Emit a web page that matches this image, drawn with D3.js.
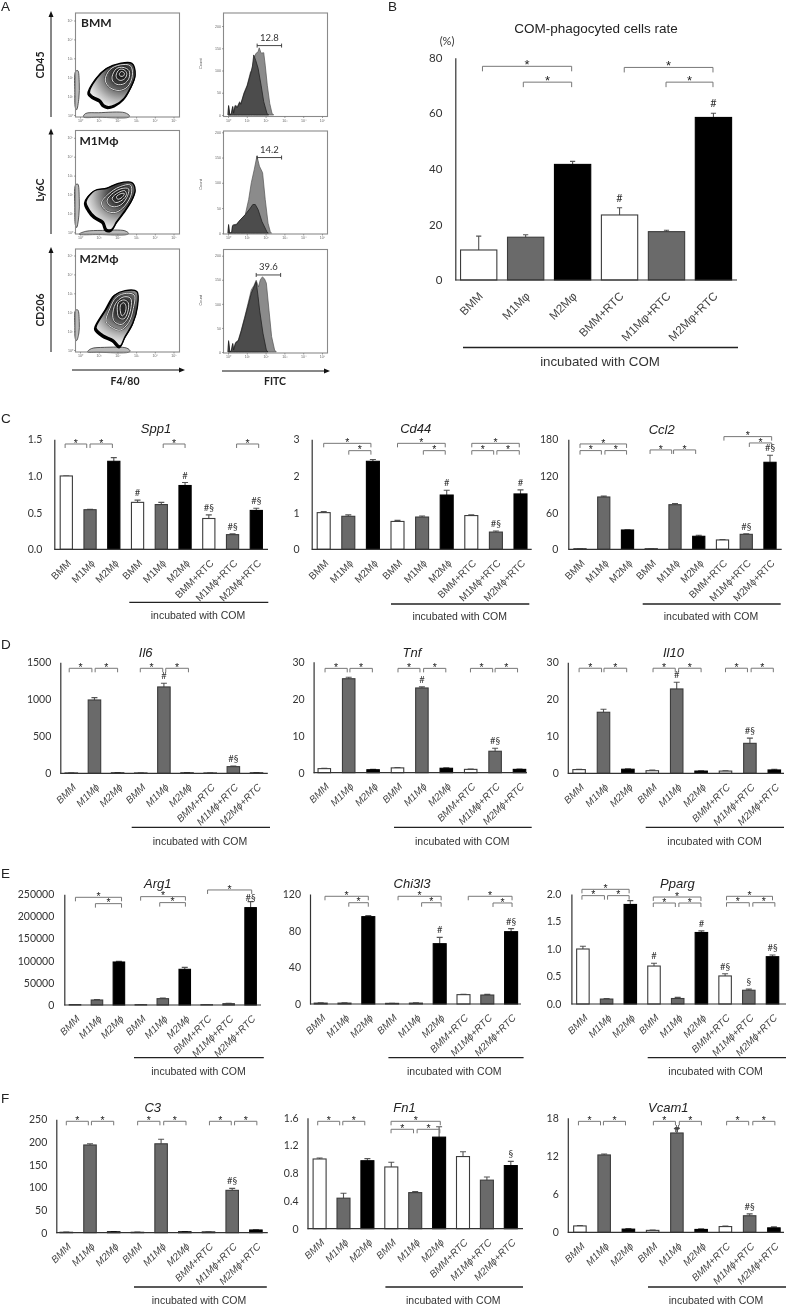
<!DOCTYPE html>
<html><head><meta charset="utf-8">
<script src="https://cdnjs.cloudflare.com/ajax/libs/d3/7.8.5/d3.min.js"></script>
<style>html,body{margin:0;padding:0;background:#fff}svg{display:block;filter:blur(0.4px)}</style></head>
<body><div id="chart"></div>
<script>
// ---------- shared categories ----------
const catsAll = ["BMM","M1Mϕ","M2Mϕ","BMM","M1Mϕ","M2Mϕ","BMM+RTC","M1Mϕ+RTC","M2Mϕ+RTC"];
const catsB = ["BMM","M1Mφ","M2Mφ","BMM+RTC","M1Mφ+RTC","M2Mφ+RTC"];
const noteText = "incubated with COM";

// ---------- panel B ----------
const rateVals = [10.8,15.4,41.6,23.4,17.4,58.5];
const rateErrs = [15.8,16.3,42.7,26,17.9,60];
const rateTicks = [0,20,40,60,80];
const rateMarks = [[3,"#"],[5,"#"]];
const rateBrackets = [[0.08,1.98,76.9],[0.95,1.98,71.2],[3.1,4.99,76.5],[3.99,4.99,71.2]];

// ---------- panel C ----------
const spp1Vals=[1.0,0.54,1.2,0.64,0.61,0.87,0.42,0.2,0.53];
const spp1Errs=[1.0,0.545,1.25,0.67,0.64,0.91,0.47,0.21,0.56];
const spp1Ticks=[0,0.5,1,1.5];
const spp1Marks=[[3,"#"],[5,"#"],[6,"#§"],[7,"#§"],[8,"#§"]];
const spp1Brackets=[[-0.05,0.86,1.436],[1,1.94,1.436],[4.08,5,1.436],[7.17,8.1,1.436]];

const cd44Vals=[1.0,0.9,2.4,0.76,0.88,1.48,0.92,0.47,1.51];
const cd44Errs=[1.03,0.94,2.45,0.79,0.91,1.61,0.94,0.5,1.62];
const cd44Ticks=[0,1,2,3];
const cd44Marks=[[5,"#"],[7,"#§"],[8,"#"]];
const cd44Brackets=[[0,1.92,2.89],[1.02,1.92,2.69],[3,4.94,2.89],[4.05,4.94,2.69],[6.02,7.95,2.89],[6.02,6.91,2.69],[7.04,7.95,2.69]];

const ccl2Vals=[1,85.6,31.6,1,73,21.3,15.3,24.5,142.4];
const ccl2Errs=[1.2,87,32,1.2,75,23,16,25.5,154];
const ccl2Ticks=[0,60,120,180];
const ccl2Marks=[[7,"#§"],[8,"#§"]];
const ccl2Brackets=[[0,1.96,172.4],[0,0.9,161.5],[1.05,1.96,161.5],[2.95,3.86,162.6],[3.94,4.87,162.6],[6.06,8.07,184.4],[7.13,8.07,174]];

// ---------- panel D ----------
const il6Vals=[5,991,5,5,1167,5,5,90,5];
const il6Errs=[6,1022,6,6,1216,6,6,99,6];
const il6Ticks=[0,500,1000,1500];
const il6Marks=[[4,"#"],[7,"#§"]];
const il6Brackets=[[-0.09,0.89,1419],[1.03,2,1419],[2.98,3.95,1419],[4.08,5.06,1419]];

const tnfVals=[1.1,25.4,0.8,1.3,22.9,1.2,0.9,5.8,0.9];
const tnfErrs=[1.2,25.8,0.9,1.4,23.2,1.3,1.0,6.6,1.0];
const tnfTicks=[0,10,20,30];
const tnfMarks=[[4,"#"],[7,"#§"]];
const tnfBrackets=[[0.03,0.94,28.2],[1.05,1.97,28.2],[3.02,3.92,28.2],[4.07,4.98,28.2],[5.99,6.9,28.2],[7,7.92,28.2]];

const il10Vals=[1.0,16.5,1.1,0.7,22.8,0.6,0.6,8.1,0.9];
const il10Errs=[1.1,17.3,1.2,0.9,24.6,0.7,0.7,9.5,1.1];
const il10Ticks=[0,10,20,30];
const il10Marks=[[4,"#"],[7,"#§"]];
const il10Brackets=[[0,0.92,28.4],[1.02,1.95,28.4],[3.03,3.94,28.4],[4.08,5,28.4],[6,6.9,28.4],[7.05,7.96,28.4]];

// ---------- panel E ----------
const arg1Vals=[1000,11300,97100,800,14300,80600,800,3000,219900];
const arg1Errs=[1200,12500,98600,1000,15800,85000,1000,3800,233400];
const arg1Ticks=[0,50000,100000,150000,200000,250000];
const arg1Marks=[[8,"#§",1]];
const arg1Brackets=[[0.02,2.12,243200],[0.93,2.12,228900],[2.99,5.03,244700],[3.86,5.03,231200],[6.04,8.05,259800]];

const chi3l3Vals=[1,1,95.3,0.7,1,65.8,10.2,9.8,78.9];
const chi3l3Errs=[1.2,1.2,96.4,0.9,1.3,72.7,10.6,10.5,82.2];
const chi3l3Ticks=[0,40,80,120];
const chi3l3Marks=[[5,"#"],[8,"#§"]];
const chi3l3Brackets=[[0.18,2,117.5],[1.18,2,110.5],[3.25,5.06,117.5],[4.24,5.06,110.5],[6.2,8.04,117.5],[7.24,8.04,110.2]];

const ppargVals=[1.0,0.09,1.81,0.69,0.1,1.3,0.51,0.25,0.86];
const ppargErrs=[1.05,0.1,1.88,0.74,0.12,1.33,0.55,0.27,0.89];
const ppargTicks=[0,0.5,1,1.5,2];
const ppargMarks=[[3,"#"],[5,"#"],[6,"#§"],[7,"§"],[8,"#§"]];
const ppargBrackets=[[-0.04,1.95,2.085],[-0.04,0.91,1.97],[1.04,1.95,1.97],[2.97,4.98,1.945],[2.97,3.9,1.836],[4.05,4.98,1.836],[6.06,8,1.958],[6.06,7.02,1.842],[7.17,8.1,1.842]];

// ---------- panel F ----------
const c3Vals=[1,193.4,2,1,196,2,2,93.4,6];
const c3Errs=[1.3,196,2.4,1.3,206,2.4,2.4,97.8,6.5];
const c3Ticks=[0,50,100,150,200,250];
const c3Marks=[[7,"#§"]];
const c3Brackets=[[0,0.93,245.6],[1.06,2,245.6],[3.01,3.95,245.6],[4.11,5.05,245.6],[6.04,6.96,245.6],[7.1,8.04,245.6]];

const fn1Vals=[1.005,0.44,0.98,0.89,0.52,1.32,1.04,0.7,0.91];
const fn1Errs=[1.02,0.51,1.01,0.957,0.535,1.47,1.11,0.745,0.97];
const fn1Ticks=[0,0.4,0.8,1.2,1.6];
const fn1Marks=[[8,"§"]];
const fn1Brackets=[[-0.08,0.84,1.548],[0.97,1.89,1.548],[2.99,5.05,1.548],[2.99,3.93,1.433],[4.08,5.03,1.433]];

const vcam1Vals=[1.0,12.15,0.5,0.3,15.6,0.45,0.9,2.6,0.7];
const vcam1Errs=[1.05,12.3,0.6,0.35,16.3,0.55,1.0,2.9,0.85];
const vcam1Ticks=[0,6,12,18];
const vcam1Marks=[[4,"#",-3],[7,"#§"]];
const vcam1Brackets=[[-0.06,0.85,17.43],[0.97,1.88,17.43],[3.03,3.94,17.43],[4.1,5.01,17.43],[6.05,6.96,17.43],[7.13,8.04,17.43]];

// ---------- panel A: flow cytometry, log10 units ----------
const rowNames=["BMM","M1Mϕ","M2Mϕ"];
const yAxisNames=["CD45","Ly6C","CD206"];
const gateVals=["12.8","14.2","39.6"];
const gateFrom=[1.55,1.55,1.5];
const gateTo=[2.85,2.85,2.8];
const gateCount=[156,150,160];
const contourOuter=[
 [[.5,1.18],[.89,1.94],[1.43,2.47],[2.14,2.73],[2.77,2.73],[2.95,2.12],[2.71,1.46],[2.35,.88],[1.87,.53],[1.52,.44],[1.29,.53],[1.07,.79],[.71,.97]],
 [[.32,1.62],[.77,2.2],[1.43,2.33],[2.05,2.59],[2.77,2.63],[2.95,2.24],[2.77,1.71],[2.36,1.09],[1.96,.56],[1.7,.16],[1.43,.16],[1.25,.56],[.8,.83],[.5,1.18]],
 [[.89,1.32],[1.43,2.2],[1.87,2.91],[2.41,3.14],[3.04,3.09],[3.07,2.29],[2.82,1.41],[2.41,.71],[2.14,.21],[1.79,.53],[1.25,.79],[.86,1.15]]
];
const contourCentre=[[2.2,2.17],[2.14,1.98],[2.29,2.2]];
const contourRings=[
 [[[1.35,1.85],[1.6,2.4],[2.15,2.65],[2.7,2.6],[2.8,2.1],[2.55,1.5],[2.1,1.3],[1.6,1.45]],
  [[1.72,2.05],[1.95,2.45],[2.3,2.52],[2.62,2.35],[2.62,1.95],[2.35,1.65],[1.98,1.62],[1.75,1.8]],
  [[1.93,2.1],[2.1,2.4],[2.35,2.4],[2.5,2.2],[2.42,1.95],[2.2,1.83],[2,1.9]],
  [[2.1,2.17],[2.22,2.3],[2.37,2.22],[2.33,2.07],[2.17,2.05]]],
 [[[1.15,1.55],[1.55,2.05],[2.1,2.4],[2.7,2.5],[2.75,2.05],[2.4,1.4],[1.9,1.05],[1.4,1.15]],
  [[1.45,1.7],[1.8,2.1],[2.25,2.32],[2.6,2.3],[2.55,1.95],[2.25,1.5],[1.85,1.35],[1.55,1.45]],
  [[1.72,1.8],[2.05,2.1],[2.4,2.2],[2.48,2],[2.25,1.7],[1.9,1.58]],
  [[1.95,1.88],[2.2,2.05],[2.37,2.05],[2.25,1.85],[2.02,1.75]]],
 [[[1.4,1.5],[1.6,2.2],[1.95,2.8],[2.5,3],[2.9,2.9],[2.85,2.2],[2.6,1.45],[2.15,1.05],[1.7,1.2]],
  [[1.75,1.8],[1.9,2.45],[2.3,2.8],[2.7,2.75],[2.72,2.2],[2.5,1.6],[2.2,1.35],[1.85,1.5]],
  [[2,2],[2.05,2.5],[2.35,2.65],[2.58,2.5],[2.55,2],[2.35,1.65],[2.1,1.7]],
  [[2.15,2.1],[2.18,2.4],[2.35,2.5],[2.46,2.3],[2.4,1.95],[2.25,1.8]]]
];
const smearLeft=[
 [[-.25,.4],[-.28,1.2],[-.24,2.3],[-.12,2.35],[-.04,1.7],[-.06,.9],[-.18,.28]],
 [[-.25,.4],[-.28,1.3],[-.24,2.5],[-.12,2.55],[-.04,1.8],[-.06,.9],[-.18,.25]],
 [[-.25,.6],[-.28,1.2],[-.24,2.1],[-.12,2.12],[-.04,1.5],[-.06,.9],[-.18,.5]]
];
const smearBottom=[
 [[.18,-.1],[.3,.08],[1,.12],[2.4,.12],[2.65,-.05],[2.6,-.12],[1,-.12]],
 [[-.05,-.1],[.3,.05],[1.2,.1],[2.4,.08],[2.6,-.06],[2.5,-.12],[1,-.12]],
 [[.4,-.1],[.6,.07],[1.3,.14],[2.5,.1],[2.68,-.05],[2.6,-.12],[1,-.12]]
];
const histLight=[
 [[0,0],[.03,22],[.1,0],[.18,4],[.25,20],[.3,5],[.38,22],[.5,19],[.62,30],[.68,25],[.85,50],[1.02,67],[1.2,97],[1.3,100],[1.39,127],[1.48,138],[1.6,142],[1.66,151],[1.76,139],[1.9,140],[1.98,112],[2.09,67],[2.22,26],[2.34,4],[2.43,0]],
 [[0,0],[.03,18],[.08,0],[.2,2],[.24,16],[.3,17],[.45,18],[.66,27],[.92,37],[1.1,67],[1.24,100],[1.4,127],[1.54,153],[1.67,133],[1.84,120],[1.98,67],[2.13,20],[2.25,3],[2.32,0]],
 [[0,0],[.03,24],[.1,0],[.18,3],[.25,18],[.3,5],[.4,20],[.55,25],[.7,45],[.89,73],[1.06,100],[1.24,129],[1.38,138],[1.5,149],[1.62,135],[1.72,150],[1.83,156],[1.94,152],[2.04,143],[2.18,87],[2.32,32],[2.48,4],[2.57,0]]
];
const histDark=[
 [[0,0],[.03,20],[.1,0],[.18,3],[.25,18],[.3,4],[.38,20],[.5,17],[.62,28],[.68,24],[.85,47],[1.02,65],[1.2,92],[1.3,110],[1.37,135],[1.48,122],[1.6,105],[1.76,67],[1.9,30],[2.07,4],[2.16,0]],
 [[0,0],[.03,16],[.08,0],[.2,2],[.24,14],[.3,16],[.45,17],[.66,27],[.92,37],[1.19,50],[1.32,57],[1.45,57],[1.6,47],[1.81,23],[2.07,3],[2.15,0]],
 [[0,0],[.03,22],[.1,0],[.18,3],[.25,17],[.3,4],[.4,18],[.55,23],[.7,42],[.89,70],[1.06,95],[1.24,122],[1.38,135],[1.5,146],[1.6,115],[1.68,87],[1.86,39],[2.04,4],[2.12,0]]
];
const histCountTicks=[[0,50,100,150,200],[0,50,100,150,200],[0,50,100,150,200]];
const decadeTicks=[0,1,2,3,4,5];
const supers=["⁰","¹","²","³","⁴","⁵"];

// ---------- drawing ----------
const W=787,H=1305;
const TICKF="Lato,'Open Sans',sans-serif", SANS="'Liberation Sans',Arial,sans-serif";
const svg=d3.select("#chart").append("svg").attr("width",W).attr("height",H).attr("viewBox",`0 0 ${W} ${H}`);
const defs=svg.append("defs");
const fills={BMM:"#fff",M1:"#6a6a6a",M2:"#000"};
const fillOf=c=>c.startsWith("BMM")?fills.BMM:c.startsWith("M1")?fills.M1:fills.M2;
const edgeOf=c=>c.startsWith("M2")?"#000":"#3c3c3c";

[["A",1,11],["B",388,11],["C",1,423],["D",1,649],["E",1,878],["F",1,1103]].forEach(([t,x,y])=>
  svg.append("text").attr("x",x).attr("y",y).attr("font-family",SANS).attr("font-size",13.5).attr("fill","#222").text(t));

function drawBars(cfg){
  const L=cfg.layout, g=svg.append("g");
  const idx=d3.range(cfg.cats.length);
  const last=idx.length-1;
  const band=d3.scaleBand().domain(idx).range([L.first-L.step/2,L.first+last*L.step+L.step/2]).paddingInner(1-L.barW/L.step).paddingOuter((1-L.barW/L.step)/2);
  const xi=d3.scaleLinear().domain([0,last]).range([L.first,L.first+last*L.step]);
  const y=d3.scaleLinear().domain([0,d3.max(cfg.ticks)]).range([L.base,L.top]);
  g.append("text").attr("x",L.titleX).attr("y",L.titleY).attr("text-anchor","middle").attr("font-family",SANS)
    .attr("font-size",L.titleSize||13).attr("font-style",L.titleItalic===false?"normal":"italic").attr("fill","#222").text(cfg.title);
  g.selectAll(".eb").data(idx).join("path").attr("fill","none").attr("stroke","#555").attr("stroke-width",1.1)
    .attr("d",i=>{const cx=band(i)+band.bandwidth()/2,c=L.cap;return `M${cx},${y(cfg.vals[i])}V${y(cfg.errs[i])}M${cx-c},${y(cfg.errs[i])}H${cx+c}`;});
  g.selectAll(".bar").data(idx).join("rect")
    .attr("x",i=>band(i)).attr("width",band.bandwidth())
    .attr("y",i=>y(cfg.vals[i])).attr("height",i=>L.base-y(cfg.vals[i]))
    .attr("fill",i=>fillOf(cfg.cats[i])).attr("stroke",i=>edgeOf(cfg.cats[i])).attr("stroke-width",1.1);
  const ya=d3.axisLeft(y).tickValues(cfg.ticks).tickSize(0).tickPadding(L.pad).tickFormat(cfg.fmt);
  const yg=g.append("g").attr("transform",`translate(${L.axisX},0)`).call(ya);
  yg.select(".domain").attr("stroke","#333").attr("stroke-width",1.2);
  yg.selectAll("text").attr("font-family",TICKF).attr("font-size",L.tickSize).attr("fill","#333");
  const xa=d3.axisBottom(band).tickSize(0).tickFormat(i=>cfg.cats[i]);
  const xg=g.append("g").attr("transform",`translate(0,${L.base})`).call(xa);
  xg.select(".domain").remove();
  xg.selectAll("text").attr("font-family",SANS).attr("font-size",L.catSize).attr("font-style",L.catItalic?"italic":"normal").attr("fill","#444")
    .attr("text-anchor","end").attr("x",0).attr("y",0).attr("dy",".35em")
    .attr("transform",`translate(${L.catDx},${L.catDy}) rotate(-45)`);
  g.append("line").attr("x1",L.axisX).attr("x2",L.end).attr("y1",L.base).attr("y2",L.base).attr("stroke","#333").attr("stroke-width",1.2);
  const bg=g.append("g");
  cfg.brackets.forEach(([a,b,v])=>{
    const x0=xi(a),x1=xi(b),yy=y(v);
    bg.append("path").attr("fill","none").attr("stroke","#777").attr("stroke-width",1).attr("d",`M${x0},${yy+L.drop}V${yy}H${x1}V${yy+L.drop}`);
    bg.append("text").attr("x",(x0+x1)/2).attr("y",yy+L.starDy).attr("text-anchor","middle").attr("font-family",SANS).attr("font-size",L.starSize).attr("fill","#222").text("*");
  });
  g.selectAll(".m").data(cfg.marks).join("text")
    .attr("x",d=>band(d[0])+band.bandwidth()/2)
    .attr("y",d=>y(cfg.errs[d[0]])-(d[2]===undefined?L.markOff:d[2]))
    .attr("text-anchor","middle").attr("font-family",TICKF).attr("font-size",L.markSize).attr("fill","#333").text(d=>d[1]);
  g.append("line").attr("x1",L.lineX0).attr("x2",L.lineX1).attr("y1",L.lineY).attr("y2",L.lineY).attr("stroke","#222").attr("stroke-width",1.3);
  g.append("text").attr("x",L.noteX).attr("y",L.noteY).attr("text-anchor","middle").attr("font-family",SANS).attr("font-size",L.noteSize).attr("fill","#333").text(noteText);
}

const base={cap:3,drop:4,starDy:2.6,starSize:10.5,markOff:4,markSize:9.5,tickSize:10.5,pad:11,catSize:10,catDx:3,catDy:12,barW:12.5,noteSize:10.5,catItalic:true};
const fmt1=d=>d3.format(".1f")(d), fmtI=d=>String(d), fmtFn=d=>d?d.toFixed(1):"0";

drawBars({title:"COM-phagocyted cells rate",cats:catsB,vals:rateVals,errs:rateErrs,ticks:rateTicks,fmt:fmtI,marks:rateMarks,brackets:rateBrackets,
 layout:{...base,axisX:455.3,top:57.7,base:280,end:737,first:478.7,step:46.95,barW:36.3,pad:13,tickSize:11.5,titleX:596,titleY:33,titleSize:13.5,titleItalic:false,
  lineX0:463,lineX1:738,lineY:347.5,noteX:600,noteY:366,noteSize:13.3,catSize:11.6,catItalic:false,catDx:2,catDy:14,cap:2.6,drop:5,starSize:13,starDy:3,markOff:6,markSize:11}});
svg.append("text").attr("x",447).attr("y",45).attr("text-anchor","middle").attr("font-family",TICKF).attr("font-size",11).attr("fill","#333").text("(%)");

const panels=[
 {title:"Spp1",vals:spp1Vals,errs:spp1Errs,ticks:spp1Ticks,fmt:fmt1,marks:spp1Marks,brackets:spp1Brackets,
  l:{catItalic:false,axisX:54.3,top:439.3,base:549.3,end:268,first:66.3,step:23.75,barW:12.2,pad:12,titleX:156,titleY:433,lineX0:129.3,lineX1:268.3,lineY:602.3,noteX:198,noteY:619}},
 {title:"Cd44",vals:cd44Vals,errs:cd44Errs,ticks:cd44Ticks,fmt:fmtI,marks:cd44Marks,brackets:cd44Brackets,
  l:{catItalic:false,axisX:311.7,top:439.3,base:549.3,end:531.7,first:323.7,step:24.6,barW:13,pad:12,titleX:415.7,titleY:433,lineX0:391,lineX1:529.3,lineY:604,noteX:459.7,noteY:620}},
 {title:"Ccl2",vals:ccl2Vals,errs:ccl2Errs,ticks:ccl2Ticks,fmt:fmtI,marks:ccl2Marks,brackets:ccl2Brackets,
  l:{catItalic:false,axisX:568.3,top:439.3,base:549.3,end:781.7,first:580,step:23.75,barW:12.2,pad:10,titleX:661.7,titleY:434,lineX0:642.7,lineX1:780.7,lineY:604,noteX:711,noteY:620}},
 {title:"Il6",vals:il6Vals,errs:il6Errs,ticks:il6Ticks,fmt:fmtI,marks:il6Marks,brackets:il6Brackets,
  l:{axisX:60.3,top:662.3,base:773.3,end:267.8,first:71.3,step:23.15,pad:9,titleX:145.7,titleY:657,lineX0:131.7,lineX1:270,lineY:827.3,noteX:200,noteY:845}},
 {title:"Tnf",vals:tnfVals,errs:tnfErrs,ticks:tnfTicks,fmt:fmtI,marks:tnfMarks,brackets:tnfBrackets,
  l:{axisX:313.6,top:661.7,base:772.7,end:527,first:324.3,step:24.4,pad:9,titleX:412,titleY:657,lineX0:394,lineX1:531.7,lineY:827.3,noteX:462.3,noteY:845}},
 {title:"Il10",vals:il10Vals,errs:il10Errs,ticks:il10Ticks,fmt:fmtI,marks:il10Marks,brackets:il10Brackets,
  l:{axisX:567.8,top:662.3,base:773.3,end:784,first:579.1,step:24.4,pad:9,titleX:673.4,titleY:657,lineX0:645.7,lineX1:784,lineY:827.3,noteX:714.6,noteY:845}},
 {title:"Arg1",vals:arg1Vals,errs:arg1Errs,ticks:arg1Ticks,fmt:fmtI,marks:arg1Marks,brackets:arg1Brackets,
  l:{axisX:64.3,top:894.3,base:1005,end:261,first:75,step:21.95,barW:11.5,pad:10,titleX:157.8,titleY:888,lineX0:134,lineX1:263.8,lineY:1057.7,noteX:198.5,noteY:1075}},
 {title:"Chi3l3",vals:chi3l3Vals,errs:chi3l3Errs,ticks:chi3l3Ticks,fmt:fmtI,marks:chi3l3Marks,brackets:chi3l3Brackets,
  l:{axisX:310,top:894,base:1004,end:521,first:320.7,step:23.8,barW:13,pad:9,titleX:412,titleY:888,lineX0:388.4,lineX1:523.6,lineY:1057.7,noteX:454.3,noteY:1075}},
 {title:"Pparg",vals:ppargVals,errs:ppargErrs,ticks:ppargTicks,fmt:fmt1,marks:ppargMarks,brackets:ppargBrackets,
  l:{axisX:571.4,top:894,base:1004,end:786,first:582.9,step:23.7,pad:10,titleX:677.4,titleY:888,lineX0:647.7,lineX1:786,lineY:1057.7,noteX:715.6,noteY:1075}},
 {title:"C3",vals:c3Vals,errs:c3Errs,ticks:c3Ticks,fmt:fmtI,marks:c3Marks,brackets:c3Brackets,
  l:{axisX:56.3,top:1119.3,base:1232.7,end:267.8,first:66.3,step:23.7,pad:9,titleX:152.8,titleY:1112,lineX0:134,lineX1:266.8,lineY:1287,noteX:199,noteY:1304}},
 {title:"Fn1",vals:fn1Vals,errs:fn1Errs,ticks:fn1Ticks,fmt:fmtFn,marks:fn1Marks,brackets:fn1Brackets,
  l:{axisX:307.5,top:1117.7,base:1228.7,end:523,first:319.6,step:23.9,barW:13,pad:9,titleX:404.5,titleY:1112,lineX0:385.4,lineX1:523,lineY:1287,noteX:453.3,noteY:1304}},
 {title:"Vcam1",vals:vcam1Vals,errs:vcam1Errs,ticks:vcam1Ticks,fmt:fmtI,marks:vcam1Marks,brackets:vcam1Brackets,
  l:{axisX:567.8,top:1117.7,base:1232.3,end:784,first:579.9,step:24.25,pad:9,titleX:668.3,titleY:1112,lineX0:648,lineX1:786,lineY:1287,noteX:716,noteY:1304}}
];
panels.forEach(p=>drawBars({...p,cats:catsAll,layout:{...base,...p.l}}));

// ---------- Panel A ----------
const rowsL=[{top:13,bottom:117,y0:115},{top:130.5,bottom:234,y0:232.3},{top:249,bottom:352,y0:350}];
const rowsR=[{top:13,bottom:116.5,y0:115,y200:26},{top:131,bottom:234,y0:233.3,y200:132.3},{top:249.5,bottom:353,y0:352,y200:255.7}];
const PL={x0:75.5,x1:179.5,ax:80,dec:18.7}, PR={x0:223.5,x1:327.5,ax:228,dec:18.8};
function tinyAxes(xS,yS,yTicks,yFmt){
  const ax=d3.axisBottom(xS).tickValues(decadeTicks).tickSize(1.5).tickPadding(1).tickFormat(d=>"10"+supers[d]);
  const ay=d3.axisLeft(yS).tickValues(yTicks).tickSize(1.5).tickPadding(1).tickFormat(yFmt);
  return [ax,ay];
}
rowsL.forEach((r,k)=>{
  const g=svg.append("g");
  const x=d3.scaleLinear().domain([0,5]).range([PL.ax,PL.ax+5*PL.dec]);
  const y=d3.scaleLinear().domain([0,5]).range([r.y0,r.y0-5*18.9]);
  const gid="cg"+k, [cx,cy]=contourCentre[k];
  const rg=defs.append("radialGradient").attr("id",gid).attr("gradientUnits","userSpaceOnUse").attr("cx",x(cx)).attr("cy",y(cy)).attr("r",34);
  [[0,"#111"],[.3,"#3c3c3c"],[.55,"#7c7c7c"],[.8,"#bbb"],[1,"#e4e4e4"]].forEach(([o,c])=>rg.append("stop").attr("offset",o).attr("stop-color",c));
  const path=d3.line().x(d=>x(d[0])).y(d=>y(d[1])).curve(d3.curveCatmullRomClosed.alpha(.5));
  [smearLeft[k],smearBottom[k]].forEach(s=>g.append("path").attr("d",path(s)).attr("fill","#bbb").attr("stroke","#333").attr("stroke-width",.8));
  g.append("path").attr("d",path(contourOuter[k])).attr("fill","#000").attr("stroke","#000").attr("stroke-width",2.2).attr("transform","translate(-1,1.4)");
  g.append("path").attr("d",path(contourOuter[k])).attr("fill",`url(#${gid})`).attr("stroke","#000").attr("stroke-width",1.4);
  contourRings[k].forEach((ring,j)=>{
    g.append("path").attr("d",path(ring)).attr("fill",j===3?"#333":"none").attr("stroke","#111").attr("stroke-width",1.8).attr("opacity",.6);
    g.append("path").attr("d",path(ring)).attr("fill","none").attr("stroke","#f0f0f0").attr("stroke-width",.9);
  });
  g.append("rect").attr("x",PL.x0).attr("y",r.top).attr("width",PL.x1-PL.x0).attr("height",r.bottom-r.top).attr("fill","none").attr("stroke","#8a8a8a").attr("stroke-width",1.1);
  const [ax,ay]=tinyAxes(x,y,decadeTicks,d=>"10"+supers[d]);
  const agx=g.append("g").attr("transform",`translate(0,${r.bottom})`).call(ax);
  const agy=g.append("g").attr("transform",`translate(${PL.x0},0)`).call(ay);
  [agx,agy].forEach(a=>{a.select(".domain").remove();a.selectAll("line").attr("stroke","#666").attr("stroke-width",.6);a.selectAll("text").attr("font-family",SANS).attr("font-size",3.6).attr("fill","#666");});
  g.append("text").attr("x",k===0?81:79.5).attr("y",r.top+14.2).attr("font-family",TICKF).attr("font-weight",700).attr("font-size",12).attr("fill","#222").text(rowNames[k]);
  g.append("line").attr("x1",51).attr("x2",51).attr("y1",r.bottom).attr("y2",r.top+1).attr("stroke","#111").attr("stroke-width",1);
  g.append("path").attr("d",`M51,${r.top-2}l-2.5,6h5z`).attr("fill","#111");
  g.append("text").attr("transform",`translate(44,${[65,190,310][k]}) rotate(-90)`).attr("text-anchor","middle").attr("font-family",TICKF).attr("font-weight",700).attr("font-size",10.5).attr("fill","#222").text(yAxisNames[k]);
});
rowsR.forEach((r,k)=>{
  const g=svg.append("g");
  const x=d3.scaleLinear().domain([0,5]).range([PR.ax,PR.ax+5*PR.dec]);
  const y=d3.scaleLinear().domain([0,200]).range([r.y0,r.y200]);
  const area=d3.area().x(d=>x(d[0])).y0(r.y0).y1(d=>y(d[1]));
  g.append("path").attr("d",area(histLight[k])).attr("fill","#8b8b8b").attr("stroke","#555").attr("stroke-width",.7);
  g.append("path").attr("d",area(histDark[k])).attr("fill","#4c4c4c").attr("stroke","#222").attr("stroke-width",.8);
  g.append("rect").attr("x",PR.x0).attr("y",r.top).attr("width",PR.x1-PR.x0).attr("height",r.bottom-r.top).attr("fill","none").attr("stroke","#8a8a8a").attr("stroke-width",1.1);
  const [ax,ay]=tinyAxes(x,y,histCountTicks[k],d=>String(d));
  const agx=g.append("g").attr("transform",`translate(0,${r.bottom})`).call(ax);
  const agy=g.append("g").attr("transform",`translate(${PR.x0},0)`).call(ay);
  [agx,agy].forEach(a=>{a.select(".domain").remove();a.selectAll("line").attr("stroke","#666").attr("stroke-width",.6);a.selectAll("text").attr("font-family",SANS).attr("font-size",3.6).attr("fill","#666");});
  g.append("text").attr("transform",`translate(201.5,${(r.top+r.bottom)/2+(k===1?2:-1)}) rotate(-90)`).attr("text-anchor","middle").attr("font-family",SANS).attr("font-size",4).attr("fill","#555").text("Count");
  const gy=y(gateCount[k]), gx0=x(gateFrom[k]), gx1=x(gateTo[k]);
  g.append("path").attr("fill","none").attr("stroke","#333").attr("stroke-width",.9).attr("d",`M${gx0},${gy-2}v4M${gx0},${gy}H${gx1}M${gx1},${gy-2}v4`);
  g.append("text").attr("x",(gx0+gx1)/2).attr("y",gy-5).attr("text-anchor","middle").attr("font-family",TICKF).attr("font-size",9.5).attr("fill","#333").text(gateVals[k]);
});
[[72,185,370,"F4/80",125],[222,330,371,"FITC",275]].forEach(([a,b,yy,t,tx])=>{
  svg.append("line").attr("x1",a).attr("x2",b-3).attr("y1",yy).attr("y2",yy).attr("stroke","#111").attr("stroke-width",1);
  svg.append("path").attr("d",`M${b},${yy}l-6,-2.5v5z`).attr("fill","#111");
  svg.append("text").attr("x",tx).attr("y",385).attr("text-anchor","middle").attr("font-family",TICKF).attr("font-weight",700).attr("font-size",10.5).attr("fill","#222").text(t);
});
</script></body></html>
